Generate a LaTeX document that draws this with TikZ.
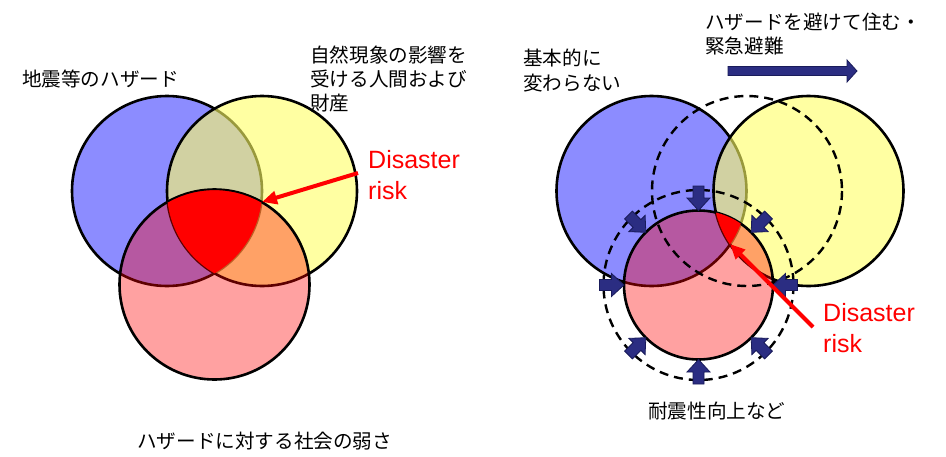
\documentclass[tikz,border=0pt]{standalone}
\usepackage{fontspec}
\setmainfont{Liberation Sans}
\newfontfamily\jp{Noto Sans CJK JP}
\usetikzlibrary{arrows.meta}
\definecolor{bluefill}{RGB}{140,140,255}
\definecolor{yelfill}{RGB}{255,255,100}
\definecolor{navy}{RGB}{43,45,130}
\definecolor{navyedge}{RGB}{25,27,90}
\begin{document}
\begin{tikzpicture}[x=1pt,y=-1pt,
  ring/.style={draw=black,line width=2.6pt},
  dashring/.style={draw=black,line width=2.4pt,dash pattern=on 9pt off 6pt},
  bluedisc/.style={fill=bluefill},
  yeldisc/.style={fill=yelfill,fill opacity=0.6},
  reddisc/.style={fill=red,fill opacity=0.37},
  jplabel/.style={font=\jp\fontsize{19.6}{24}\selectfont,inner sep=0pt,anchor=base west},
  risklabel/.style={font=\fontsize{25}{30}\selectfont,text=red,inner sep=0pt,anchor=base west},
  riskarrow/.style={draw=red,line width=4pt,-{Triangle[length=15pt,width=13pt]}},
  blockarrow/.style={fill=navy,draw=navyedge,line width=0.8pt}]
\useasboundingbox[fill=white] (0,0) rectangle (946,456);

% ---------- left diagram ----------
\coordinate (lb) at (167,191);
\coordinate (ly) at (262,191);
\coordinate (lr) at (214.5,284.5);
\path[bluedisc] (lb) circle[radius=95];
\draw[ring] (lb) circle[radius=95];
\path[yeldisc] (ly) circle[radius=95];
\draw[ring] (ly) circle[radius=95];
\path[reddisc] (lr) circle[radius=95];
\draw[ring] (lr) circle[radius=95];
\begin{scope}
  \clip (lb) circle[radius=95];
  \clip (ly) circle[radius=95];
  \fill[red] (lr) circle[radius=95];
\end{scope}
\begin{scope}
  \clip (lb) circle[radius=95];
  \clip (ly) circle[radius=95];
  \draw[line width=1.2pt] (lr) circle[radius=95];
\end{scope}

\node[jplabel] (hz) at (22,86) {地震等のハザード};
\node[jplabel] (ex1) at (310,62) {自然現象の影響を};
\node[jplabel] (ex2) at (310,86) {受ける人間および};
\node[jplabel] (ex3) at (310,110) {財産};
\node[jplabel] (vu) at (137,448) {ハザードに対する社会の弱さ};
\node[risklabel] (dr1) at (368,168) {Disaster};
\node[risklabel] (dr2) at (368,199) {risk};
\coordinate (la1) at (358,173);
\coordinate (la2) at (262,202);
\draw[riskarrow] (la1) -- (la2);

% ---------- right diagram ----------
\coordinate (rb) at (651.5,191);
\coordinate (ry) at (808.5,191);
\coordinate (rc) at (698.5,285);
\coordinate (dy) at (747,191);
\path[bluedisc] (rb) circle[radius=95];
\draw[ring] (rb) circle[radius=95];
\path[yeldisc] (ry) circle[radius=95];
\draw[ring] (ry) circle[radius=95];
\path[reddisc] (rc) circle[radius=74.5];
\draw[ring] (rc) circle[radius=74.5];
\begin{scope}
  \clip (rb) circle[radius=95];
  \clip (ry) circle[radius=95];
  \fill[red] (rc) circle[radius=74.5];
\end{scope}
\draw[dashring] (dy) circle[radius=95];
\draw[dashring] (rc) circle[radius=95];

\foreach \a in {0,45,...,315}{
  \begin{scope}[shift={(rc)},rotate=\a]
    \path[blockarrow] (99,-5.5) -- (87,-5.5) -- (87,-11.5) -- (74.5,0)
      -- (87,11.5) -- (87,5.5) -- (99,5.5) -- cycle;
  \end{scope}
}

\path[blockarrow] (728,66.5) -- (847,66.5) -- (847,60) -- (857,71)
  -- (847,82) -- (847,75.5) -- (728,75.5) -- cycle;

\node[jplabel] (mv1) at (705,29) {ハザードを避けて住む・};
\node[jplabel] (mv2) at (705,53) {緊急避難};
\node[jplabel] (nc1) at (523,65) {基本的に};
\node[jplabel] (nc2) at (523,90) {変わらない};
\node[jplabel] (rs) at (648,418) {耐震性向上など};
\node[risklabel] (dr3) at (823,321) {Disaster};
\node[risklabel] (dr4) at (823,352) {risk};
\coordinate (ra1) at (813,327);
\coordinate (ra2) at (730,244);
\draw[riskarrow] (ra1) -- (ra2);
\end{tikzpicture}
\end{document}
